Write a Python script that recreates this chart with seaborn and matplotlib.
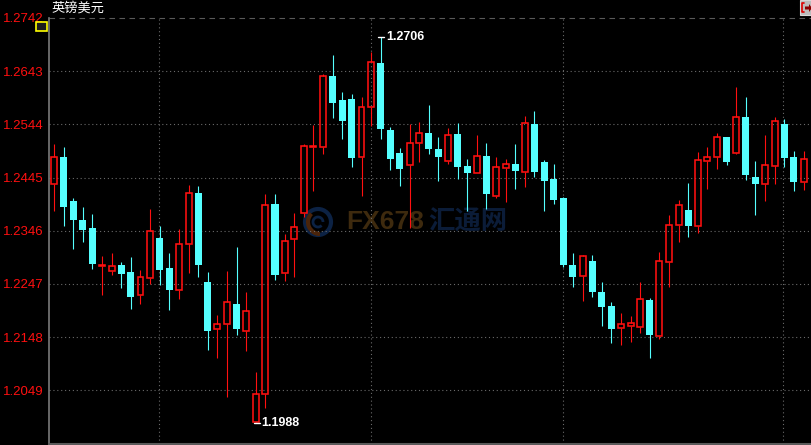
import numpy as np
import pandas as pd
import matplotlib.pyplot as plt
import matplotlib.patches as mpatches
from matplotlib.lines import Line2D
import seaborn as sns

# daily candles, GBP/USD
opens = [
    1.2432, 1.2484, 1.2401, 1.2366, 1.2351, 1.2281, 1.2270, 1.2282, 1.2269, 1.2227,
    1.2258, 1.2332, 1.2276, 1.2235, 1.2321, 1.2416, 1.2250, 1.2162, 1.2173, 1.2209,
    1.2160, 1.1989, 1.2042, 1.2396, 1.2267, 1.2330, 1.2378, 1.2502, 1.2502, 1.2634,
    1.2589, 1.2591, 1.2483, 1.2577, 1.2658, 1.2533, 1.2491, 1.2468, 1.2510, 1.2528,
    1.2498, 1.2476, 1.2526, 1.2466, 1.2454, 1.2485, 1.2411, 1.2463, 1.2470, 1.2456,
    1.2545, 1.2474, 1.2442, 1.2407, 1.2282, 1.2262, 1.2290, 1.2232, 1.2206, 1.2165,
    1.2169, 1.2167, 1.2217, 1.2150, 1.2288, 1.2357, 1.2384, 1.2355, 1.2476, 1.2483,
    1.2520, 1.2490, 1.2558, 1.2446, 1.2433, 1.2466, 1.2545, 1.2483, 1.2437]
highs = [
    1.2507, 1.2502, 1.2406, 1.2390, 1.2377, 1.2299, 1.2304, 1.2287, 1.2297, 1.2273,
    1.2386, 1.2354, 1.2304, 1.2350, 1.2431, 1.2429, 1.2269, 1.2189, 1.2271, 1.2316,
    1.2232, 1.2083, 1.2414, 1.2414, 1.2340, 1.2379, 1.2507, 1.2543, 1.2638, 1.2673,
    1.2604, 1.2600, 1.2595, 1.2679, 1.2706, 1.2539, 1.2500, 1.2544, 1.2548, 1.2580,
    1.2520, 1.2537, 1.2546, 1.2479, 1.2524, 1.2509, 1.2483, 1.2479, 1.2507, 1.2560,
    1.2569, 1.2478, 1.2470, 1.2409, 1.2304, 1.2300, 1.2301, 1.2250, 1.2213, 1.2193,
    1.2187, 1.2250, 1.2221, 1.2306, 1.2375, 1.2403, 1.2435, 1.2492, 1.2502, 1.2528,
    1.2521, 1.2614, 1.2595, 1.2476, 1.2524, 1.2558, 1.2554, 1.2494, 1.2494]
lows = [
    1.2383, 1.2355, 1.2311, 1.2324, 1.2275, 1.2226, 1.2264, 1.2240, 1.2200, 1.2209,
    1.2247, 1.2245, 1.2199, 1.2219, 1.2268, 1.2260, 1.2124, 1.2108, 1.2037, 1.2152,
    1.2122, 1.1988, 1.2016, 1.2255, 1.2253, 1.2260, 1.2372, 1.2419, 1.2489, 1.2556,
    1.2517, 1.2465, 1.2411, 1.2541, 1.2517, 1.2459, 1.2429, 1.2351, 1.2474, 1.2489,
    1.2439, 1.2471, 1.2443, 1.2383, 1.2453, 1.2387, 1.2407, 1.2400, 1.2424, 1.2428,
    1.2446, 1.2383, 1.2396, 1.2279, 1.2241, 1.2215, 1.2222, 1.2169, 1.2137, 1.2134,
    1.2139, 1.2156, 1.2109, 1.2145, 1.2242, 1.2324, 1.2335, 1.2341, 1.2424, 1.2461,
    1.2469, 1.2489, 1.2441, 1.2376, 1.2402, 1.2433, 1.2465, 1.2419, 1.2422]
closes = [
    1.2483, 1.2391, 1.2366, 1.2347, 1.2284, 1.2283, 1.2280, 1.2265, 1.2223, 1.2259,
    1.2345, 1.2273, 1.2236, 1.2321, 1.2416, 1.2283, 1.2160, 1.2172, 1.2213, 1.2162,
    1.2196, 1.2042, 1.2394, 1.2263, 1.2326, 1.2352, 1.2504, 1.2503, 1.2634, 1.2584,
    1.2551, 1.2481, 1.2576, 1.2660, 1.2536, 1.2479, 1.2461, 1.2509, 1.2527, 1.2499,
    1.2483, 1.2525, 1.2465, 1.2454, 1.2485, 1.2415, 1.2464, 1.2470, 1.2457, 1.2546,
    1.2456, 1.2439, 1.2403, 1.2282, 1.2260, 1.2299, 1.2232, 1.2204, 1.2163, 1.2172,
    1.2175, 1.2219, 1.2152, 1.2290, 1.2357, 1.2394, 1.2355, 1.2478, 1.2483, 1.2520,
    1.2473, 1.2558, 1.2450, 1.2433, 1.2468, 1.2550, 1.2482, 1.2437, 1.2479]

y_ticks = [1.2049, 1.2148, 1.2247, 1.2346, 1.2445, 1.2544, 1.2643, 1.2742]
month_breaks = [10.95, 33.0, 53.0, 75.9]
title = '英镑美元'

RED = '#ff1010'
CYAN = '#55ffff'
GRID = '#6a6a6a'

df = pd.DataFrame({'open': opens, 'high': highs, 'low': lows, 'close': closes})
df['idx'] = np.arange(len(df))
df['up'] = df['close'] >= df['open']
up = df[df['up']]
dn = df[~df['up']]

sns.set_style('dark', {'axes.facecolor': 'black', 'figure.facecolor': 'black',
                       'axes.grid': False})
plt.rcParams['font.family'] = ['Liberation Sans', 'Noto Sans CJK SC', 'DejaVu Sans']

fig = plt.figure(figsize=(8.12, 4.45), dpi=100)
ax = fig.add_axes([49 / 812, 1 / 445, 763 / 812, 426 / 445])
ymin, ymax = 1.19488, 1.2742
ax.set_ylim(ymin, ymax)
ax.set_xlim(-0.52, 78.88)

# grid
for t in y_ticks[:-1]:
    ax.axhline(t, color=GRID, lw=0.8, ls=(0, (1, 2.5)), zorder=1)
ax.axhline(y_ticks[-1], color='#5a5a5a', lw=0.8, ls=(0, (5, 4)), zorder=1, clip_on=False)
for m in month_breaks:
    ax.axvline(m, color=GRID, lw=0.8, ls=(0, (1, 2.5)), zorder=1)

# watermark (pixel coords of the picture -> axes fraction)
def axf(px, py):
    return (px - 49) / 763, (444 - py) / 426

cx, cy = axf(318, 222)
ax.add_patch(mpatches.Ellipse((cx, cy), 26 / 763, 26 / 426, transform=ax.transAxes,
                              fill=False, edgecolor='#0c2244', lw=3, zorder=0.5))
ax.add_patch(mpatches.Arc((cx + 2 / 763, cy), 24 / 763, 24 / 426, theta1=120, theta2=270,
                          transform=ax.transAxes, edgecolor='#4a240a', lw=3, zorder=0.6))
ax.add_patch(mpatches.Arc((cx, cy), 10 / 763, 10 / 426, theta1=0, theta2=300,
                          transform=ax.transAxes, edgecolor='#0c2244', lw=2, zorder=0.6))
x0, y0 = axf(346, 222)
ax.text(x0, y0, 'FX678', transform=ax.transAxes, color='#3e2a0e', fontsize=19,
        fontweight='bold', va='center', ha='left', zorder=0.5)
x1, y1 = axf(428, 222)
ax.text(x1, y1, '汇通网', transform=ax.transAxes, color='#0b1c38', fontsize=19,
        fontweight='bold', va='center', ha='left', family='Noto Sans CJK SC', zorder=0.5)

# wicks
ax.vlines(dn['idx'], dn['low'], dn['high'], color=CYAN, lw=0.8, zorder=2)
ax.vlines(up['idx'], up['close'], up['high'], color=RED, lw=0.8, zorder=2)
ax.vlines(up['idx'], up['low'], up['open'], color=RED, lw=0.8, zorder=2)

# bodies
ax.bar(dn['idx'], dn['open'] - dn['close'], bottom=dn['close'], width=0.74,
       color=CYAN, edgecolor='none', zorder=3)
ax.bar(up['idx'], up['close'] - up['open'], bottom=up['open'], width=0.62,
       fill=False, edgecolor=RED, lw=1.15, zorder=3)

# high / low labels
hi = df['high'].idxmax()
lo = df['low'].idxmin()
ax.plot([hi - 0.3, hi + 0.35], [df['high'][hi]] * 2, color='white', lw=1, zorder=4)
ax.text(hi + 0.55, df['high'][hi], f"{df['high'][hi]:.4f}", color='white', fontsize=9,
        fontweight='bold', va='center', ha='left', zorder=4)
ax.plot([lo - 0.2, lo + 0.45], [df['low'][lo]] * 2, color='white', lw=1, zorder=4)
ax.text(lo + 0.55, df['low'][lo], f"{df['low'][lo]:.4f}", color='white', fontsize=9,
        fontweight='bold', va='center', ha='left', zorder=4)

# axes styling
ax.set_yticks(y_ticks)
ax.set_yticklabels([f'{t:.4f}' for t in y_ticks])
minor = [t for t in np.arange(ymax, ymin, -0.00198)]
ax.set_yticks(minor, minor=True)
ax.tick_params(axis='y', which='both', colors='#808080', length=2, width=0.8,
               direction='out', pad=2, labelcolor=RED, labelsize=9.5)
ax.set_xticks([])
for s in ['top', 'right']:
    ax.spines[s].set_visible(False)
ax.spines['left'].set_color('#7a7a7a')
ax.spines['left'].set_linewidth(1.2)
ax.spines['bottom'].set_color('#5a5a5a')
ax.spines['bottom'].set_linewidth(1.5)

# title and small widgets
fig.text(52 / 812, 1 - 8.5 / 445, title, color='white', fontsize=9.5, va='center', ha='left',
         family=['Noto Sans CJK SC', 'DejaVu Sans'])
fig.add_artist(mpatches.Rectangle((36 / 812, 1 - 31 / 445), 11 / 812, 9 / 445,
                                  transform=fig.transFigure, facecolor='#1c1c1c',
                                  edgecolor='#ffff00', lw=1.2))
fig.add_artist(mpatches.Rectangle((800 / 812, 1 - 15 / 445), 12 / 812, 15 / 445,
                                  transform=fig.transFigure, facecolor='#bcbcbc',
                                  edgecolor='#d8d8d8', lw=0.8))
fig.add_artist(Line2D([804 / 812, 802 / 812, 802 / 812, 804 / 812],
                      [1 - 3 / 445, 1 - 3 / 445, 1 - 12 / 445, 1 - 12 / 445],
                      transform=fig.transFigure, color='#e00000', lw=1.2))
fig.add_artist(mpatches.Polygon([[805 / 812, 1 - 6.5 / 445], [809 / 812, 1 - 6.5 / 445],
                                 [809 / 812, 1 - 4 / 445], [812 / 812, 1 - 8 / 445],
                                 [809 / 812, 1 - 12 / 445], [809 / 812, 1 - 9.5 / 445],
                                 [805 / 812, 1 - 9.5 / 445]],
                                transform=fig.transFigure, facecolor='#8a0000',
                                edgecolor='none'))

fig.savefig('out.png', dpi=100, facecolor='black')
